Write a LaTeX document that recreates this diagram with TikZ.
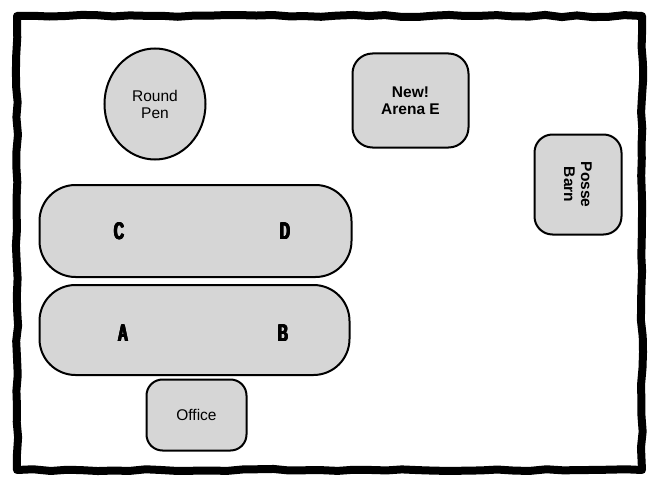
\documentclass[tikz,border=0pt]{standalone}
\usepackage{fontspec}
\setmainfont{Liberation Sans}
\usetikzlibrary{shapes.geometric,decorations.pathmorphing}
\definecolor{areafill}{HTML}{D6D6D6}
\tikzset{
  area/.style={draw=black, line width=2pt, fill=areafill, rounded corners=#1, inner sep=0pt, align=center, font=\fontsize{15.5}{17}\selectfont},
  area/.default=20pt,
  letter/.style={font=\fontsize{24}{26}\selectfont\bfseries},
}
\newcommand{\heavyglyph}[1]{\rlap{#1}\rlap{\raisebox{0.5pt}{#1}}\kern1pt\rlap{#1}\rlap{\raisebox{0.5pt}{#1}}\kern1pt\rlap{\raisebox{0.5pt}{#1}}#1}
\newcommand{\narrowletter}[1]{\scalebox{0.58}[1]{\heavyglyph{#1}}}
\begin{document}
\begin{tikzpicture}[x=1pt,y=-1pt]
\useasboundingbox (0,0) rectangle (654,487);
\fill[white] (0,0) rectangle (654,487);
% outer wavy border
\pgfmathsetseed{7}
\draw[line width=8pt, line join=round, line cap=round,
  decoration={random steps, segment length=16pt, amplitude=1.1pt}, decorate]
  (17,16) -- (642,16) -- (642,470) -- (17,470) -- cycle;
% Round pen
\node[draw=black, line width=2pt, fill=areafill, ellipse, minimum width=101pt, minimum height=111pt, inner sep=0pt, align=center, font=\fontsize{15.5}{17}\selectfont] (pen) at (155,104) {Round\\Pen};
% Arena E
\node[area, minimum width=116pt, minimum height=94pt, font=\fontsize{15.5}{17}\selectfont\bfseries] (arenaE) at (410.5,100.5) {New!\\Arena E};
% Posse Barn
\node[area=18pt, minimum width=87pt, minimum height=100pt] (barnbox) at (578,184.5) {};
\node[rotate=-90, align=center, font=\fontsize{15.5}{17}\selectfont\bfseries] (barn) at (barnbox.center) {Posse\\Barn};
% CD arena
\node[area=36pt, minimum width=312pt, minimum height=92pt] (cd) at (195.5,231) {};
\node[letter] (c) at (119,231) {\narrowletter{C}};
\node[letter] (d) at (285,231) {\narrowletter{D}};
% AB arena
\node[area=36pt, minimum width=310pt, minimum height=90pt] (ab) at (194.5,330) {};
\node[letter] (a) at (123,333) {\narrowletter{A}};
\node[letter] (b) at (283,333) {\narrowletter{B}};
% Office
\node[area=16pt, minimum width=100pt, minimum height=71pt] (office) at (196.5,415) {Office};
\end{tikzpicture}
\end{document}
